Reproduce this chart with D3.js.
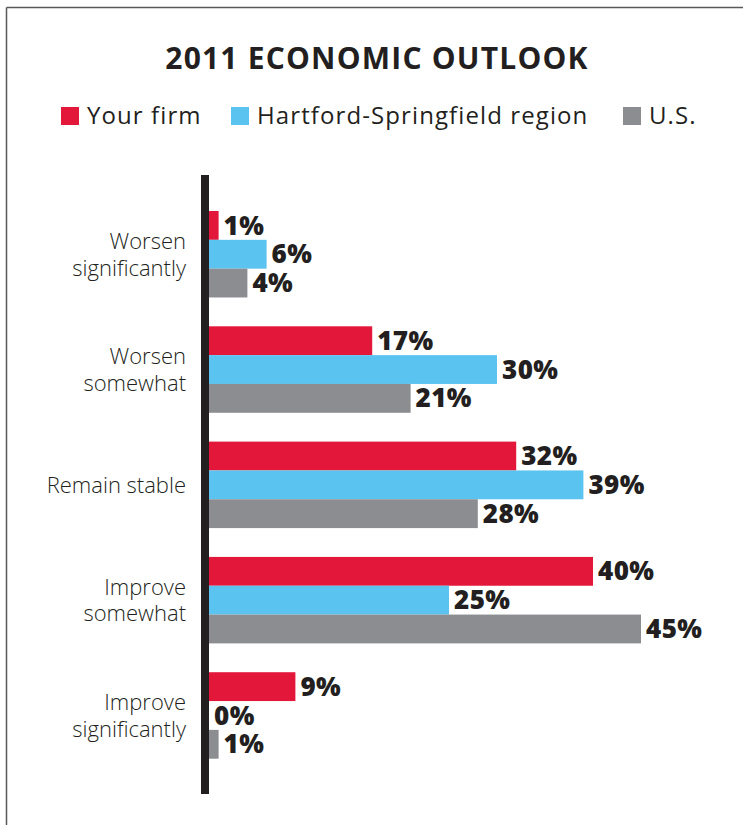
<!DOCTYPE html>
<html>
<head>
<meta charset="utf-8">
<script src="https://cdn.jsdelivr.net/npm/d3@7"></script>
<style>
  html, body { margin: 0; padding: 0; background: #fff; }
  svg { display: block; }
  text { font-family: "Open Sans", "Noto Sans", sans-serif; fill: #231f20; }
</style>
</head>
<body>
<svg id="chart" width="743" height="825"></svg>
<script>
// Outlook answers (rows) and the share of respondents per group, in percent
const categories = [
  ["Worsen", "significantly"],
  ["Worsen", "somewhat"],
  ["Remain stable"],
  ["Improve", "somewhat"],
  ["Improve", "significantly"]
];
const seriesNames = ["Your firm", "Hartford-Springfield region", "U.S."];
const yourFirm = [1, 17, 32, 40, 9];
const hartfordSpringfield = [6, 30, 39, 25, 0];
const unitedStates = [4, 21, 28, 45, 1];
const colors = ["#e3173a", "#5bc3ef", "#8c8d90"];

const series = [yourFirm, hartfordSpringfield, unitedStates];
const catKeys = categories.map(c => c.join(" "));

const svg = d3.select("#chart");

// frame: top and left rules
svg.append("line").attr("x1", 6.5).attr("x2", 743).attr("y1", 7.5).attr("y2", 7.5)
  .attr("stroke", "#58585a").attr("stroke-width", 1.5);
svg.append("line").attr("x1", 6.5).attr("x2", 6.5).attr("y1", 7.5).attr("y2", 825)
  .attr("stroke", "#58585a").attr("stroke-width", 1.5);

// title
svg.append("text")
  .attr("x", 377).attr("y", 69)
  .attr("text-anchor", "middle")
  .attr("font-size", 30).attr("font-weight", 700)
  .attr("letter-spacing", 1.2)
  .text("2011 ECONOMIC OUTLOOK");

// legend
const legendX = [61, 231, 623];
const legend = svg.append("g");
seriesNames.forEach((name, i) => {
  const g = legend.append("g").attr("transform", `translate(${legendX[i]},107)`);
  g.append("rect").attr("width", 18).attr("height", 18).attr("fill", colors[i]);
  g.append("text").attr("x", 26).attr("y", 16.5)
    .attr("font-size", 24).attr("font-weight", 400)
    .attr("letter-spacing", 1.1)
    .text(name);
});

// scales
const x = d3.scaleLinear().domain([0, 45]).range([209, 641]);
const y = d3.scaleBand().domain(catKeys).range([211, 758.7]).paddingInner(0.25).paddingOuter(0);
const ySub = d3.scaleBand().domain(d3.range(series.length)).range([0, y.bandwidth()]);

// bars and value labels
const groups = svg.append("g").selectAll("g")
  .data(catKeys)
  .join("g")
  .attr("transform", d => `translate(0,${y(d)})`);

groups.each(function(key, ci) {
  const g = d3.select(this);
  series.forEach((vals, si) => {
    const v = vals[ci];
    g.append("rect")
      .attr("x", x(0))
      .attr("y", ySub(si))
      .attr("width", x(v) - x(0))
      .attr("height", ySub.bandwidth())
      .attr("fill", colors[si]);
    g.append("text")
      .attr("x", x(v) + 5)
      .attr("y", ySub(si) + ySub.bandwidth() / 2)
      .attr("dy", "0.35em")
      .attr("font-size", 26).attr("font-weight", 800)
      .attr("letter-spacing", 0.4)
      .text(v + "%");
  });
});

// category labels
const labels = svg.append("g").selectAll("text")
  .data(categories)
  .join("text")
  .attr("text-anchor", "end")
  .attr("font-size", 22).attr("font-weight", 300)
  .attr("transform", (d, i) => `translate(186,${y(catKeys[i]) + y.bandwidth() / 2})`);
labels.each(function(lines) {
  const t = d3.select(this);
  const lh = 26.7;
  const start = -(lines.length - 1) * lh / 2;
  lines.forEach((ln, k) => {
    t.append("tspan").attr("x", 0).attr("y", start + k * lh).attr("dy", "0.36em").text(ln);
  });
});

// vertical axis bar
svg.append("rect")
  .attr("x", 201).attr("y", 175)
  .attr("width", 8).attr("height", 794 - 175)
  .attr("fill", "#231f20");
</script>
</body>
</html>
